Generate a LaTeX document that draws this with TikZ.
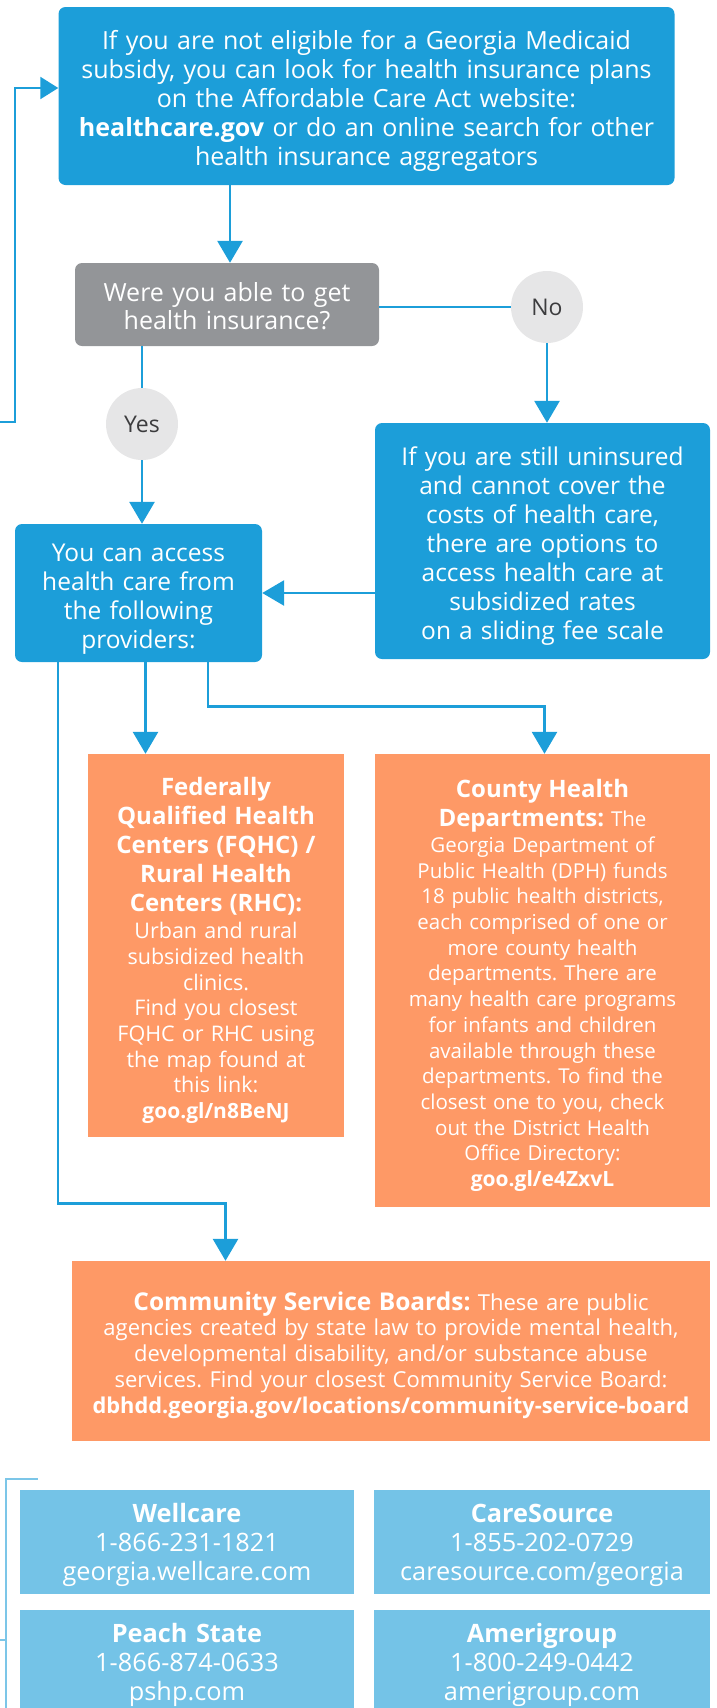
\documentclass[tikz,border=0pt]{standalone}
\usepackage{fontspec}
\setmainfont{Open Sans}
\usetikzlibrary{arrows.meta,calc}
\definecolor{cblue}{RGB}{28,158,217}
\definecolor{cgray}{RGB}{147,149,152}
\definecolor{ccirc}{RGB}{230,230,231}
\definecolor{ctext}{RGB}{60,60,62}
\definecolor{corange}{RGB}{254,153,102}
\definecolor{clight}{RGB}{116,195,231}
\definecolor{cbracket}{RGB}{124,198,232}
\newcommand\headtxt[1]{{\fontsize{24}{29}\selectfont\bfseries #1}}
\frenchspacing
\begin{document}
\begin{tikzpicture}[x=1pt,y=1pt,
  box/.style={inner sep=0pt},
  bluebox/.style={box, fill=cblue, rounded corners=7pt},
  graybox/.style={box, fill=cgray, rounded corners=7pt},
  orangebox/.style={box, fill=corange},
  lightbox/.style={box, fill=clight},
  txt/.style={inner sep=0pt, align=center, text=white},
  bluetxt/.style={txt, font=\fontsize{24.5}{29}\selectfont},
  orangetxt/.style={txt, font=\fontsize{21.5}{25.7}\selectfont},
  lighttxt/.style={txt, font=\fontsize{25.3}{29}\selectfont},
  answer/.style={circle, fill=ccirc, text=ctext, inner sep=0pt, minimum size=72pt, font=\fontsize{23}{28}\selectfont},
  conn/.style={draw=cblue, line width=2.8pt, -{Triangle[width=25pt,length=22pt]}},
  plainconn/.style={draw=cblue, line width=2.8pt},
  loopconn/.style={draw=cblue, line width=2.2pt, -{Triangle[width=22pt,length=18pt]}},
  bracket/.style={draw=cbracket, line width=2pt}
]
\useasboundingbox (0,0) rectangle (717,-1708);

% boxes
\node[bluebox, minimum width=616pt, minimum height=178pt] (top) at (366.5,-96) {};
\node[graybox, minimum width=304pt, minimum height=83pt] (gray) at (227,-304.5) {};
\node[answer] (no) at (547,-307) {No};
\node[answer] (yes) at (142,-424) {Yes};
\node[bluebox, minimum width=335pt, minimum height=236pt] (still) at (542.5,-541) {};
\node[bluebox, minimum width=247pt, minimum height=138pt] (access) at (138.5,-593) {};
\node[orangebox, minimum width=256pt, minimum height=383pt] (fqhc) at (216,-945.5) {};
\node[orangebox, minimum width=335pt, minimum height=453pt] (county) at (542.5,-980.5) {};
\node[orangebox, minimum width=638pt, minimum height=180pt] (csb) at (391,-1351) {};
\node[lightbox, minimum width=334pt, minimum height=104pt] (well) at (187,-1542) {};
\node[lightbox, minimum width=336pt, minimum height=104pt] (care) at (542,-1542) {};
\node[lightbox, minimum width=334pt, minimum height=104pt] (peach) at (187,-1662) {};
\node[lightbox, minimum width=336pt, minimum height=104pt] (amer) at (542,-1662) {};

% texts
\node[bluetxt, text width=612pt, font=\fontsize{25}{29}\selectfont] (toptxt) at ([yshift=-5pt]top.center)
 {If you are not eligible for a Georgia Medicaid\\ subsidy, you can look for health insurance plans\\ on the Affordable Care Act website:\\ \textbf{healthcare.gov} or do an online search for other\\ health insurance aggregators};
\node[bluetxt, text width=300pt, font=\fontsize{25}{28}\selectfont] (graytxt) at ([yshift=-2pt]gray.center)
 {Were you able to get\\ health insurance?};
\node[bluetxt, text width=333pt] (stilltxt) at ([yshift=-5pt]still.center)
 {If you are still uninsured\\ and cannot cover the\\ costs of health care,\\ there are options to\\ access health care at\\ subsidized rates\\ on a sliding fee scale};
\node[bluetxt, text width=245pt] (accesstxt) at ([yshift=-6pt]access.center)
 {You can access\\ health care from\\ the following\\ providers:};
\node[orangetxt, text width=254pt] (fqhctxt) at ([yshift=-5pt]fqhc.center)
 {\headtxt{Federally}\\[3.3pt]\headtxt{Qualified Health}\\[3.3pt]\headtxt{Centers (FQHC) /}\\[3.3pt]\headtxt{Rural Health}\\[3.3pt]\headtxt{Centers (RHC):}\\[1.3pt]
 Urban and rural\\ subsidized health\\ clinics.\\ Find you closest\\ FQHC or RHC using\\ the map found at\\ this link:\\ {\fontsize{21}{25.7}\selectfont\bfseries goo.gl/n8BeNJ}};
\node[orangetxt, text width=333pt, font=\fontsize{20.5}{25.7}\selectfont] (countytxt) at ([yshift=-5pt]county.center)
 {\headtxt{County Health}\\[3.3pt]\headtxt{Departments:} The\\ Georgia Department of\\ Public Health (DPH) funds\\ 18 public health districts,\\ each comprised of one or\\ more county health\\ departments. There are\\ many health care programs\\ for infants and children\\ available through these\\ departments. To find the\\ closest one to you, check\\ out the District Health\\ Office Directory:\\ {\fontsize{21}{25.7}\selectfont\bfseries goo.gl/e4ZxvL}};
\node[orangetxt, text width=636pt, font=\fontsize{22}{25.8}\selectfont] (csbtxt) at ([yshift=-4pt]csb.center)
 {{\fontsize{24.5}{29}\selectfont\bfseries Community Service Boards:} These are public\\ agencies created by state law to provide mental health,\\ developmental disability, and/or substance abuse\\ services. Find your closest Community Service Board:\\ {\fontsize{21.8}{25.8}\selectfont\bfseries dbhdd.georgia.gov/locations/community-service-board}};
\node[lighttxt, text width=332pt] (welltxt) at ([yshift=-3pt]well.center)
 {\textbf{Wellcare}\\ 1-866-231-1821\\ georgia.wellcare.com};
\node[lighttxt, text width=334pt] (caretxt) at ([yshift=-3pt]care.center)
 {\textbf{CareSource}\\ 1-855-202-0729\\ caresource.com/georgia};
\node[lighttxt, text width=332pt] (peachtxt) at ([yshift=-3pt]peach.center)
 {\textbf{Peach State}\\ 1-866-874-0633\\ pshp.com};
\node[lighttxt, text width=334pt] (amertxt) at ([yshift=-3pt]amer.center)
 {\textbf{Amerigroup}\\ 1-800-249-0442\\ amerigroup.com};

% connectors
\coordinate (loopstart) at (0,-422);
\coordinate (loopcorner) at (15,-422);
\draw[loopconn] (loopstart) -- (loopcorner) |- ([yshift=8pt]top.west);

\draw[conn] ([xshift=3pt]gray.north |- top.south) -- ([xshift=3pt]gray.north);
\draw[plainconn] (no.west -| gray.east) -- (no.west);
\draw[conn] (no.south) -- (no.south |- still.north);
\draw[plainconn] (yes.north |- gray.south) -- (yes.north);
\draw[conn] (yes.south) -- (yes.south |- access.north);
\draw[conn] (still.west |- access.east) -- (access.east);
\draw[conn] ([xshift=7pt]access.south) -- ([xshift=7pt]access.south |- fqhc.north);
\draw[conn] ([xshift=69.5pt]access.south) -- ++(0,-44pt) -| ([xshift=2pt]county.north);
\draw[conn] ([xshift=-80.5pt]access.south) -- ++(0,-541pt) -| ([xshift=-165.5pt]csb.north);

% bracket at bottom left
\coordinate (brA) at (0,-1640);
\coordinate (brB) at (6,-1640);
\coordinate (brC) at (6,-1712);
\coordinate (brD) at (6,-1479);
\coordinate (brE) at (38,-1479);
\draw[bracket] (brA) -- (brB);
\draw[bracket] (brC) -- (brD) -- (brE);
\end{tikzpicture}
\end{document}
